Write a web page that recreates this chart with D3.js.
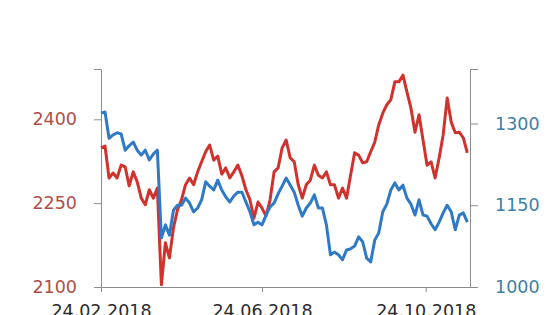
<!DOCTYPE html>
<html>
<head>
<meta charset="utf-8">
<script src="https://cdn.jsdelivr.net/npm/d3@7"></script>
<style>
body{margin:0;background:#fff;}
svg text{font-family:"DejaVu Sans",sans-serif;}
</style>
</head>
<body>
<svg id="chart" width="560" height="315"></svg>
<script>
let dates=["2018-02-24","2018-02-27","2018-03-02","2018-03-05","2018-03-08","2018-03-11","2018-03-14","2018-03-17","2018-03-20","2018-03-23",
"2018-03-26","2018-03-29","2018-04-01","2018-04-04","2018-04-07","2018-04-10","2018-04-13","2018-04-16","2018-04-19","2018-04-22",
"2018-04-25","2018-04-28","2018-05-01","2018-05-04","2018-05-07","2018-05-10","2018-05-13","2018-05-16","2018-05-19","2018-05-22",
"2018-05-25","2018-05-28","2018-05-31","2018-06-03","2018-06-06","2018-06-09","2018-06-12","2018-06-15","2018-06-18","2018-06-21",
"2018-06-24","2018-06-27","2018-06-30","2018-07-03","2018-07-06","2018-07-09","2018-07-12","2018-07-15","2018-07-18","2018-07-21",
"2018-07-24","2018-07-27","2018-07-30","2018-08-02","2018-08-05","2018-08-08","2018-08-11","2018-08-14","2018-08-17","2018-08-20",
"2018-08-23","2018-08-26","2018-08-29","2018-09-01","2018-09-04","2018-09-07","2018-09-10","2018-09-13","2018-09-16","2018-09-19",
"2018-09-22","2018-09-25","2018-09-28","2018-10-01","2018-10-04","2018-10-07","2018-10-10","2018-10-13","2018-10-16","2018-10-19",
"2018-10-22","2018-10-25","2018-10-28","2018-10-31","2018-11-03","2018-11-06","2018-11-09","2018-11-12","2018-11-15","2018-11-18",
"2018-11-21","2018-11-24"];

// left axis series (red)
let redValues=[2349,2352,2295,2304,2295,2318,2315,2281,2306,2288,
2259,2247,2274,2259,2277,2104,2179,2152,2206,2238,
2256,2283,2295,2283,2306,2324,2342,2354,2327,2334,
2302,2313,2295,2306,2318,2299,2274,2256,2223,2252,
2241,2227,2256,2306,2313,2349,2363,2331,2324,2283,
2259,2283,2291,2318,2300,2295,2306,2283,2283,2259,
2277,2259,2300,2340,2336,2322,2324,2342,2359,2390,
2411,2426,2435,2467,2467,2479,2449,2420,2377,2408,
2363,2318,2324,2295,2331,2372,2438,2395,2376,2377,
2367,2340];

// right axis series (blue)
let blueValues=[1319,1321,1273,1279,1283,1281,1251,1259,1266,1251,
1242,1251,1233,1244,1251,1090,1114,1095,1141,1150,
1150,1163,1154,1138,1145,1160,1193,1185,1178,1196,
1178,1165,1156,1167,1174,1174,1156,1138,1114,1119,
1114,1132,1147,1154,1171,1185,1200,1187,1174,1150,
1130,1145,1154,1169,1145,1145,1114,1059,1064,1059,
1050,1068,1070,1075,1092,1083,1053,1046,1086,1099,
1138,1152,1178,1191,1178,1187,1163,1152,1132,1160,
1132,1130,1116,1105,1119,1136,1150,1138,1105,1132,
1136,1119];

let leftTicks=[2100,2250,2400];
let rightTicks=[1000,1150,1300];
let xTicks=["2018-02-24","2018-06-24","2018-10-24"];

let plotLeft=101, plotRight=470, plotTop=69, plotBottom=287;
let parse=d3.timeParse("%Y-%m-%d");
let fmt=d3.timeFormat("%d.%m.%Y");

let x=d3.scaleTime()
    .domain([parse("2018-02-24"),parse("2018-11-26")])
    .range([plotLeft,plotRight]);
let yL=d3.scaleLinear().domain([2100,2490]).range([plotBottom,plotTop]);
let yR=d3.scaleLinear().domain([1000,1400]).range([plotBottom,plotTop]);

let svg=d3.select("#chart");

/**
 * @function
 * @description draw both axes and the labels
 */
function drawAxes(){
    let gl=svg.append("g")
    .attr("transform","translate("+plotLeft+",0)")
    .call(d3.axisLeft(yL).tickValues(leftTicks).tickFormat(d3.format("d")).tickSize(7).tickPadding(17));
    gl.selectAll("text").attr("fill","#ad4f48");

    let gr=svg.append("g")
    .attr("transform","translate("+plotRight+",0)")
    .call(d3.axisRight(yR).tickValues(rightTicks).tickFormat(d3.format("d")).tickSize(8).tickPadding(17));
    gr.selectAll("text").attr("fill","#3d7fa6");

    let gx=svg.append("g")
    .attr("transform","translate(0,"+plotBottom+")")
    .call(d3.axisBottom(x).tickValues(xTicks.map(parse)).tickFormat(fmt).tickSize(5).tickPadding(13).tickSizeOuter(0));
    gx.selectAll("text").attr("fill","#2a2a2a");

    svg.selectAll(".domain").attr("stroke","#8c8c8c");
    svg.selectAll(".tick line").attr("stroke","#8c8c8c");
    svg.selectAll("text")
    .style("font-family","'DejaVu Sans',sans-serif")
    .style("font-size","17.5px");
}

/**
 * @function
 * @description draw the two series
 */
function drawLines(){
    let lineL=d3.line()
    .x(function(d,i){return x(parse(dates[i]));})
    .y(function(d){return yL(d);});
    let lineR=d3.line()
    .x(function(d,i){return x(parse(dates[i]));})
    .y(function(d){return yR(d);});

    svg.append("path")
    .datum(redValues)
    .attr("d",lineL)
    .attr("fill","none")
    .attr("stroke","#d0322e")
    .attr("stroke-width",3)
    .attr("stroke-linejoin","round");

    svg.append("path")
    .datum(blueValues)
    .attr("d",lineR)
    .attr("fill","none")
    .attr("stroke","#2f7ac6")
    .attr("stroke-width",3)
    .attr("stroke-linejoin","round");
}

drawAxes();
drawLines();
</script>
</body>
</html>
